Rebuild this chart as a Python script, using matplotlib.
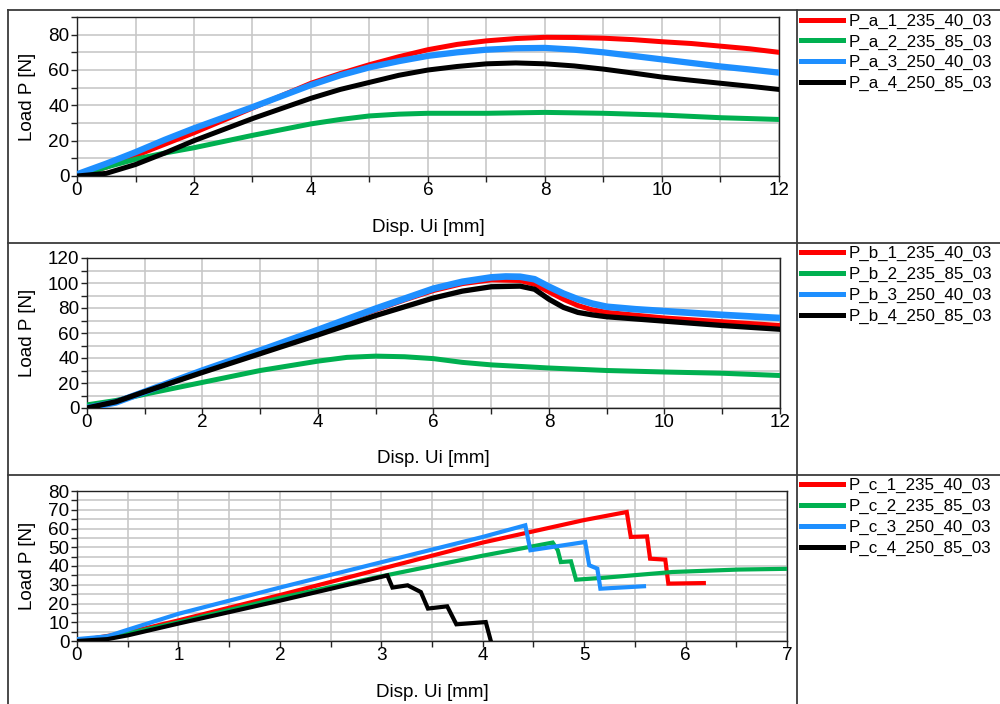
import matplotlib
matplotlib.use("Agg")
import matplotlib.pyplot as plt
from matplotlib.lines import Line2D
from matplotlib.ticker import MultipleLocator

plt.rcParams['font.family'] = ['Liberation Sans', 'DejaVu Sans']

# ---------------- data ----------------
# Panel a
a1_x = [0, 0.5, 1, 1.5, 2, 3, 4, 4.5, 5, 5.5, 6, 6.5, 7, 7.5, 8, 8.5, 9, 9.5, 10, 10.5, 11, 11.5, 12]
a1_y = [0, 5, 11.5, 18, 24.5, 38.5, 52.5, 58, 63, 67.5, 71.5, 74.5, 76.5, 77.8, 78.5, 78.4, 78, 77.2, 76, 75, 73.5, 72, 70]
a2_x = [0, 0.5, 1, 1.5, 2, 3, 4, 4.5, 5, 5.5, 6, 7, 8, 9, 10, 11, 12]
a2_y = [0, 5, 9.5, 13, 16, 23, 29.5, 32, 34, 35, 35.5, 35.5, 36, 35.5, 34.5, 33, 32]
a3_x = [0, 0.5, 1, 1.5, 2, 3, 4, 4.5, 5, 5.5, 6, 6.5, 7, 7.5, 8, 8.5, 9, 9.5, 10, 10.5, 11, 11.5, 12]
a3_y = [1, 7, 13.5, 20.5, 27, 39, 51.5, 57, 61.5, 65, 68, 70, 71.5, 72.3, 72.5, 71.5, 70, 68, 66, 64, 62, 60.3, 58.5]
a4_x = [0, 0.5, 1, 1.5, 2, 3, 4, 4.5, 5, 5.5, 6, 6.5, 7, 7.5, 8, 8.5, 9, 9.5, 10, 10.5, 11, 11.5, 12]
a4_y = [0, 1.5, 6.5, 13, 20, 32.5, 44, 49, 53, 57, 60, 62, 63.5, 64, 63.5, 62.3, 60.5, 58.3, 56, 54.2, 52.5, 50.8, 49]

# Panel b
b1_x = [0, 0.5, 1, 2, 3, 4, 5, 5.5, 6, 6.5, 7, 7.5, 7.75, 8, 8.25, 8.5, 8.75, 9, 10, 11, 12]
b1_y = [0, 5, 13, 29.5, 45.5, 62, 78.5, 86.5, 94, 99.5, 102.5, 102, 99, 93, 87, 82, 78.5, 76.5, 72, 69, 66]
b2_x = [0, 0.5, 1, 2, 3, 4, 4.5, 5, 5.5, 6, 6.5, 7, 8, 9, 10, 11, 12]
b2_y = [2.5, 6, 11, 20.5, 30, 37.5, 40.5, 41.5, 41, 39.5, 36.5, 34.5, 32, 30, 28.8, 27.8, 26]
b3_x = [0, 0.5, 1, 2, 3, 4, 5, 5.5, 6, 6.5, 7, 7.25, 7.5, 7.75, 8, 8.25, 8.5, 8.75, 9, 9.5, 10, 11, 12]
b3_y = [0, 4.5, 13, 30, 46, 62.5, 79.5, 87.5, 95.5, 101, 104.5, 105.2, 105, 103, 97, 91.5, 87, 83.5, 81, 79, 77.5, 74.5, 72]
b4_x = [0, 0.5, 1, 2, 3, 4, 5, 5.5, 6, 6.5, 7, 7.5, 7.75, 8, 8.25, 8.5, 8.75, 9, 10, 11, 12]
b4_y = [0, 5, 13, 28.5, 43.5, 58.5, 74, 81, 88, 93.5, 97, 97.5, 95, 87, 80.5, 76.5, 74.5, 73, 69.5, 66, 63]

# Panel c
c1_x = [0, 0.5, 1, 2, 3, 4, 5, 5.42, 5.46, 5.62, 5.65, 5.80, 5.83, 6.18]
c1_y = [0, 4.5, 11, 24.5, 38.5, 52.5, 64.5, 68.8, 55.5, 55.8, 43.9, 43.4, 30.6, 30.9]
c2_x = [0, 0.5, 1, 2, 3, 4, 4.69, 4.74, 4.77, 4.87, 4.92, 5.21, 5.87, 6.52, 7.0]
c2_y = [0, 4, 10, 23, 34.5, 45.5, 52.5, 48.4, 42.1, 42.5, 32.7, 33.8, 36.8, 38.1, 38.5]
c3_x = [0, 0.3, 0.5, 1, 2, 3, 4, 4.42, 4.47, 5.01, 5.05, 5.13, 5.16, 5.59]
c3_y = [1, 2.5, 6, 14.5, 28.5, 42, 55.5, 61.7, 48.4, 52.8, 40.4, 38.6, 27.9, 29.2]
c4_x = [0, 0.3, 0.5, 1, 2, 2.79, 3.06, 3.11, 3.26, 3.39, 3.46, 3.65, 3.74, 4.03, 4.08]
c4_y = [0, 1, 3, 9.3, 21.5, 31.5, 35, 28.5, 29.7, 26.1, 17.3, 18.5, 8.9, 10.1, 0]

labels_a = ["P_a_1_235_40_03", "P_a_2_235_85_03", "P_a_3_250_40_03", "P_a_4_250_85_03"]
labels_b = ["P_b_1_235_40_03", "P_b_2_235_85_03", "P_b_3_250_40_03", "P_b_4_250_85_03"]
labels_c = ["P_c_1_235_40_03", "P_c_2_235_85_03", "P_c_3_250_40_03", "P_c_4_250_85_03"]

colors = ["#FF0000", "#00B050", "#1E8FFF", "#000000"]

W, H = 1000, 704
fig = plt.figure(figsize=(W / 100, H / 100), dpi=100)
fig.patch.set_facecolor("white")


def fax(left, top, right, bottom):
    return fig.add_axes([left / W, 1 - bottom / H, (right - left) / W, (bottom - top) / H])


FS = 13.6


def style(ax, xmax, ymax, xmaj, xmin, ymaj, ymin, left, top, right, bottom, xlab_center):
    ax.set_xlim(0, xmax)
    ax.set_ylim(0, ymax)
    ax.xaxis.set_major_locator(MultipleLocator(xmaj))
    ax.xaxis.set_minor_locator(MultipleLocator(xmin))
    ax.yaxis.set_major_locator(MultipleLocator(ymaj))
    ax.yaxis.set_minor_locator(MultipleLocator(ymin))
    ax.grid(True, which="both", color="#C8C8C8", linewidth=1.2, zorder=0)
    ax.set_axisbelow(True)
    ax.tick_params(which="both", direction="out", length=4, width=1, color="#222222",
                   labelsize=FS, pad=0.5)
    ax.tick_params(axis="y", which="both", pad=1.5)
    for s in ax.spines.values():
        s.set_color("#222222")
        s.set_linewidth(1.0)
    ax.set_xlabel("Disp. Ui [mm]", fontsize=FS)
    ax.set_ylabel("Load P [N]", fontsize=FS)
    w = right - left
    h = bottom - top
    ax.yaxis.set_label_coords((36 - left) / w, 0.5)
    ax.xaxis.set_label_coords(0.5, (bottom - (xlab_center - 6)) / h)


def legend(ax, handles, labels, ytop):
    ax.legend(handles, labels, loc="upper left", bbox_to_anchor=(801 / W, 1 - ytop / H),
              bbox_transform=fig.transFigure, frameon=False, fontsize=12.2,
              handlelength=2.45, handletextpad=0.35, labelspacing=0.34,
              borderpad=0, borderaxespad=0)


# Panel a
axa = fax(77, 17, 779, 176)
lw_a = [3.6, 3.6, 4.5, 3.6]
for (x, y), c, lw in zip([(a1_x, a1_y), (a2_x, a2_y), (a3_x, a3_y), (a4_x, a4_y)], colors, lw_a):
    axa.plot(x, y, color=c, linewidth=lw, solid_joinstyle="round", zorder=3)
style(axa, 12, 90, 2, 1, 20, 10, 77, 17, 779, 176, 225)
legend(axa, [Line2D([], [], color=c, linewidth=3.6) for c in colors], labels_a, 13.5)

# Panel b
axb = fax(87, 258, 780, 408)
lw_b = [3.6, 3.6, 4.8, 3.8]
for (x, y), c, lw in zip([(b1_x, b1_y), (b2_x, b2_y), (b3_x, b3_y), (b4_x, b4_y)], colors, lw_b):
    axb.plot(x, y, color=c, linewidth=lw, solid_joinstyle="round", zorder=3)
style(axb, 12, 120, 2, 1, 20, 10, 87, 258, 780, 408, 456)
legend(axb, [Line2D([], [], color=c, linewidth=3.6) for c in colors], labels_b, 246)

# Panel c
axc = fax(77, 491, 787, 641)
for (x, y), c in zip([(c1_x, c1_y), (c2_x, c2_y), (c3_x, c3_y), (c4_x, c4_y)], colors):
    axc.plot(x, y, color=c, linewidth=3.0, solid_joinstyle="miter", zorder=3)
style(axc, 7, 80, 1, 0.5, 10, 5, 77, 491, 787, 641, 690)
legend(axc, [Line2D([], [], color=c, linewidth=3.6) for c in colors], labels_c, 478)

# table-like frame lines
frame_kw = dict(color="#3A3A3A", linewidth=1.3, transform=fig.transFigure)
fig.add_artist(Line2D([8 / W, 1], [1 - 10 / H, 1 - 10 / H], **frame_kw))
fig.add_artist(Line2D([8 / W, 1], [1 - 243 / H, 1 - 243 / H], **frame_kw))
fig.add_artist(Line2D([8 / W, 1], [1 - 475 / H, 1 - 475 / H], **frame_kw))
fig.add_artist(Line2D([8 / W, 8 / W], [1 - 10 / H, 0], **frame_kw))
fig.add_artist(Line2D([797 / W, 797 / W], [1 - 10 / H, 0], **frame_kw))

fig.savefig("out.png", dpi=100)
